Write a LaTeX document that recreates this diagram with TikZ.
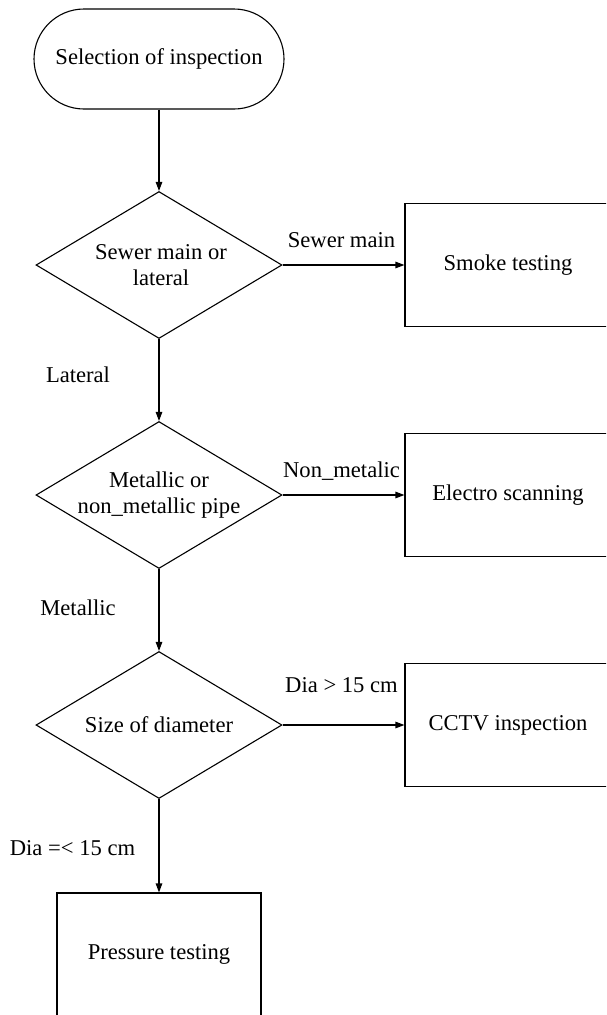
\documentclass[tikz,border=0pt]{standalone}
\usepackage{fontspec}
\setmainfont{Liberation Serif}
\usetikzlibrary{shapes.geometric,arrows.meta}
\begin{document}
\begin{tikzpicture}[x=1pt,y=-1pt,
  every node/.style={font=\fontsize{22.6}{26.5}\selectfont},
  flow/.style={line width=1.1pt,-{Triangle[length=9pt,width=6.5pt]}},
  decision/.style={draw,diamond,line width=1.1pt,minimum width=246pt,minimum height=147pt,inner sep=0pt},
  procbox/.style={draw,rectangle,line width=1.1pt,minimum width=206pt,minimum height=123pt,inner sep=0pt},
  terminal/.style={draw,rectangle,rounded corners=50pt,line width=1.1pt,minimum width=250pt,minimum height=100pt,inner sep=0pt},
  lbl/.style={anchor=base,inner sep=0pt},
  intext/.style={align=center,inner sep=0pt}
]
\useasboundingbox (0,0) rectangle (606,1015);
\clip (0,0) rectangle (606,1015);

\node[terminal] (start) at (159,59) {Selection of inspection};

\node[decision] (d1) at (159,265) {};
\node[intext] (d1t) at (161,265) {Sewer main or\\lateral};
\node[procbox] (smoke) at (508,265) {Smoke testing};

\node[decision] (d2) at (159,495) {};
\node[intext] (d2t) at (159,495) {Metallic or\\non\_metallic pipe};
\node[procbox] (electro) at (508,495) {Electro scanning};

\node[decision] (d3) at (159,725) {};
\node[intext] (d3t) at (159,725) {Size of diameter};
\node[procbox] (cctv) at (508,725) {CCTV inspection};

\node[procbox,minimum width=204pt] (press) at (159,954.5) {Pressure testing};

\draw[flow] (start) -- (d1);
\draw[flow] (d1.east) -- node[lbl,yshift=17.5pt,xshift=-2pt] {Sewer main} (smoke.west);
\draw[flow] (d1.south) -- node[lbl,xshift=-81pt,yshift=-2pt] {Lateral} (d2.north);
\draw[flow] (d2.east) -- node[lbl,yshift=18pt,xshift=-2pt] {Non\_metalic} (electro.west);
\draw[flow] (d2.south) -- node[lbl,xshift=-81pt,yshift=-5pt] {Metallic} (d3.north);
\draw[flow] (d3.east) -- node[lbl,yshift=33pt,xshift=-2pt] {Dia > 15 cm} (cctv.west);
\draw[flow] (d3.south) -- node[lbl,xshift=-86.5pt,yshift=-9.5pt] {Dia =< 15 cm} (press.north);
\end{tikzpicture}
\end{document}
